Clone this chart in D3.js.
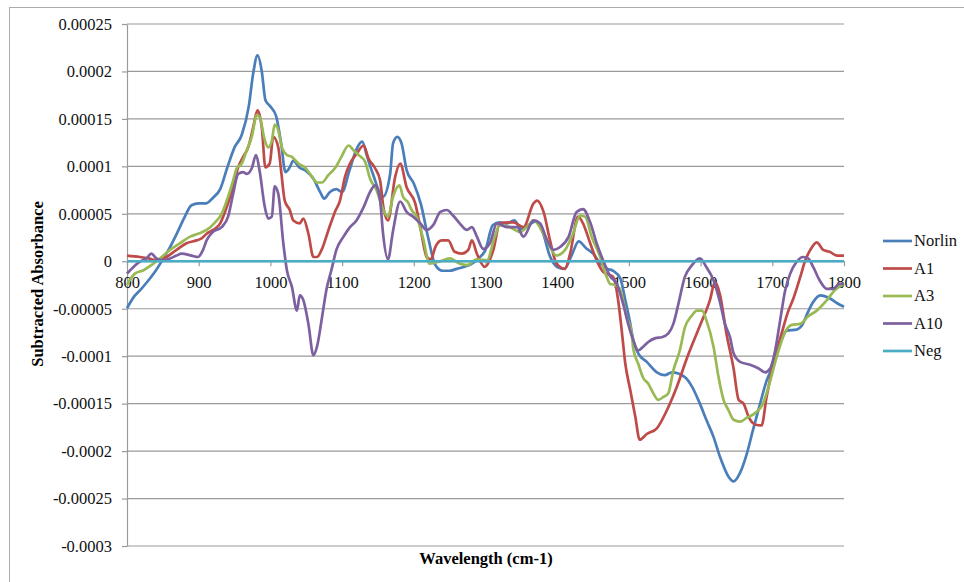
<!DOCTYPE html>
<html>
<head>
<meta charset="utf-8">
<script src="https://cdn.jsdelivr.net/npm/d3@7"></script>
<style>
body { margin: 0; background: #fff; }
text { font-family: "Liberation Serif", "Times New Roman", serif; }
</style>
</head>
<body>
<svg id="chart" width="964" height="582"></svg>
<script>
const UNIT = 1e-5;

const norlin = [[800,-4.95],[810,-3.7],[820,-2.9],[830,-2.0],[840,-1.0],[850,0.2],[860,1.5],[870,3.0],[880,4.6],[890,5.9],[900,6.1],[910,6.1],[920,6.7],[930,7.6],[940,9.9],[950,12.0],[960,13.3],[970,16.4],[976,19.8],[982,21.7],[988,20.0],[993,17.0],[1000,16.3],[1008,15.3],[1015,12.4],[1021,9.4],[1027,9.9],[1032,10.6],[1040,9.9],[1050,9.5],[1060,8.7],[1070,7.2],[1075,6.6],[1083,7.3],[1092,7.6],[1100,7.3],[1110,9.5],[1120,11.8],[1128,12.6],[1135,11.0],[1143,9.2],[1157,6.8],[1167,9.2],[1171,12.4],[1177,13.1],[1183,12.4],[1190,9.6],[1200,8.2],[1210,6.0],[1220,2.5],[1230,-0.4],[1240,-1.0],[1250,-1.0],[1260,-0.8],[1270,-0.6],[1280,-0.3],[1290,0.3],[1300,1.2],[1310,3.8],[1320,4.1],[1330,4.0],[1340,4.3],[1350,3.4],[1360,3.8],[1370,4.2],[1380,3.0],[1390,0.5],[1400,-0.6],[1410,-0.8],[1420,0.6],[1430,2.1],[1440,1.4],[1450,0.8],[1460,-0.2],[1470,-0.8],[1478,-1.0],[1488,-1.8],[1495,-4.1],[1502,-6.6],[1506,-8.3],[1513,-9.7],[1525,-10.6],[1539,-11.7],[1550,-12.0],[1560,-11.7],[1578,-12.2],[1588,-13.2],[1599,-15.0],[1608,-16.7],[1618,-18.5],[1627,-20.6],[1639,-22.7],[1646,-23.2],[1655,-22.3],[1664,-20.4],[1673,-17.8],[1683,-15.0],[1692,-12.6],[1701,-11.0],[1710,-8.9],[1720,-7.3],[1734,-7.2],[1741,-6.8],[1750,-5.3],[1757,-4.3],[1767,-3.6],[1780,-3.9],[1790,-4.4],[1800,-4.8]];

const a1 = [[800,0.6],[818,0.45],[830,0.3],[841,0.1],[855,0.45],[869,1.2],[883,1.9],[897,2.2],[904,2.4],[911,2.9],[920,3.3],[930,4.0],[939,5.7],[948,7.8],[955,9.9],[962,11.0],[969,12.0],[976,14.1],[982,15.9],[988,14.1],[993,9.9],[999,10.3],[1004,13.1],[1011,12.0],[1015,9.5],[1020,6.4],[1027,5.4],[1032,4.3],[1041,4.0],[1046,4.5],[1053,2.9],[1060,0.45],[1065,0.45],[1072,1.3],[1081,3.3],[1090,5.2],[1097,6.4],[1104,8.9],[1111,10.3],[1120,11.3],[1130,12.2],[1137,10.8],[1146,9.8],[1153,8.5],[1158,5.5],[1164,4.3],[1174,8.9],[1181,10.3],[1190,7.8],[1202,6.1],[1209,3.6],[1218,0.45],[1224,0.2],[1230,1.5],[1239,2.2],[1248,2.2],[1257,1.0],[1267,0.8],[1276,1.2],[1281,2.2],[1288,0.8],[1299,-0.6],[1311,1.2],[1320,4.0],[1339,4.1],[1353,3.6],[1367,6.1],[1372,6.4],[1381,5.2],[1390,2.2],[1399,-0.25],[1411,-0.8],[1418,0.8],[1429,4.7],[1436,4.0],[1446,1.9],[1455,0.1],[1464,-1.1],[1478,-1.65],[1485,-4.1],[1490,-7.3],[1495,-10.8],[1502,-13.6],[1509,-16.4],[1515,-18.8],[1525,-18.2],[1539,-17.6],[1553,-15.7],[1567,-13.2],[1581,-10.2],[1599,-6.8],[1613,-4.1],[1620,-2.2],[1627,-3.5],[1636,-7.6],[1646,-11.3],[1653,-14.6],[1660,-15.0],[1667,-16.4],[1676,-17.2],[1685,-17.3],[1692,-14.3],[1701,-11.0],[1713,-7.6],[1722,-5.3],[1729,-4.0],[1739,-1.65],[1746,0.1],[1753,1.2],[1762,2.0],[1771,1.2],[1780,1.0],[1790,0.6],[1800,0.6]];

const a3 = [[800,-2.5],[811,-1.3],[823,-0.95],[834,-0.4],[846,0.3],[860,1.2],[874,1.9],[888,2.6],[899,2.9],[911,3.3],[923,4.1],[932,5.0],[941,6.8],[948,8.5],[953,9.8],[960,10.3],[967,11.7],[974,13.1],[981,15.4],[985,15.2],[992,12.8],[997,12.0],[1002,12.7],[1006,14.4],[1011,13.8],[1016,12.0],[1023,11.2],[1030,11.0],[1039,10.3],[1048,9.9],[1058,8.9],[1065,8.3],[1072,8.3],[1081,9.1],[1090,9.8],[1099,11.0],[1109,12.2],[1116,11.7],[1123,11.2],[1132,10.5],[1139,8.7],[1148,7.5],[1157,5.5],[1164,4.7],[1171,6.8],[1180,8.0],[1185,6.8],[1192,6.2],[1197,5.4],[1204,4.7],[1213,2.4],[1222,-0.25],[1237,0.0],[1250,0.3],[1264,-0.25],[1274,-0.4],[1288,0.2],[1302,0.1],[1313,2.6],[1320,3.8],[1334,3.6],[1348,3.1],[1360,3.8],[1367,4.3],[1381,2.9],[1390,1.5],[1399,0.6],[1411,1.2],[1422,2.9],[1432,4.8],[1439,4.7],[1448,2.6],[1460,0.45],[1469,-1.65],[1474,-2.4],[1481,-2.5],[1488,-3.05],[1497,-5.9],[1504,-7.6],[1506,-9.2],[1513,-10.8],[1520,-12.3],[1527,-12.9],[1534,-13.9],[1541,-14.6],[1548,-14.3],[1555,-13.9],[1562,-11.5],[1571,-9.4],[1578,-7.0],[1588,-5.7],[1595,-5.2],[1602,-5.2],[1608,-6.2],[1618,-9.0],[1625,-12.2],[1632,-14.6],[1639,-15.7],[1646,-16.7],[1655,-16.9],[1664,-16.5],[1676,-16.0],[1687,-15.0],[1696,-12.9],[1706,-10.1],[1717,-7.6],[1727,-6.7],[1739,-6.6],[1750,-5.8],[1762,-5.2],[1776,-4.1],[1787,-3.05],[1800,-2.4]];

const a10 = [[800,-1.3],[809,-0.6],[818,-0.05],[827,0.3],[834,0.8],[841,0.3],[851,0.1],[860,0.3],[869,0.6],[876,0.8],[890,0.6],[899,0.45],[906,1.2],[911,2.2],[920,3.1],[932,3.6],[941,4.7],[948,7.1],[955,9.2],[962,9.4],[967,9.2],[974,9.8],[980,11.2],[985,9.5],[992,5.8],[997,4.5],[1002,4.7],[1006,7.9],[1011,7.1],[1018,1.9],[1023,-0.95],[1030,-2.7],[1037,-5.2],[1041,-3.6],[1046,-4.1],[1053,-6.6],[1060,-9.9],[1065,-9.0],[1072,-5.9],[1078,-3.05],[1085,-0.95],[1092,1.2],[1102,2.6],[1111,3.6],[1120,4.3],[1130,5.7],[1139,7.3],[1146,8.0],[1153,6.4],[1157,3.0],[1164,0.2],[1171,3.2],[1181,6.3],[1190,5.2],[1199,4.7],[1209,4.0],[1218,3.3],[1227,3.8],[1237,5.2],[1246,5.4],[1255,4.8],[1264,4.0],[1274,3.3],[1281,3.6],[1288,2.6],[1297,1.3],[1306,1.9],[1316,4.0],[1330,3.6],[1344,3.6],[1353,2.6],[1367,4.3],[1376,4.0],[1386,2.2],[1395,1.2],[1404,1.5],[1416,2.6],[1427,5.2],[1436,5.5],[1446,4.1],[1455,1.9],[1464,0.1],[1474,-1.6],[1483,-2.35],[1492,-4.5],[1499,-6.6],[1506,-8.3],[1513,-9.4],[1520,-9.0],[1527,-8.5],[1537,-8.1],[1546,-8.0],[1555,-7.6],[1562,-6.6],[1569,-4.5],[1578,-1.65],[1588,-0.4],[1599,0.3],[1608,-0.6],[1618,-2.0],[1627,-4.3],[1634,-6.6],[1641,-8.0],[1646,-9.7],[1655,-10.6],[1669,-10.9],[1681,-11.3],[1690,-11.7],[1697,-11.3],[1704,-9.4],[1711,-6.2],[1718,-3.05],[1725,-1.3],[1734,-0.05],[1743,0.45],[1750,0.3],[1757,-0.6],[1766,-2.0],[1776,-2.9],[1785,-2.9],[1794,-2.35],[1800,-2.4]];

const neg = [[800,0],[1800,0]];

const SERIES = [norlin, a1, a3, a10, neg];
const SERIES_NAMES = ["Norlin", "A1", "A3", "A10", "Neg"];
const SERIES_COLORS = ["#4a7ebb", "#be4b48", "#98b954", "#7d60a0", "#4bacc6"];

const X_TICKS = [800, 900, 1000, 1100, 1200, 1300, 1400, 1500, 1600, 1700, 1800];
const Y_TICKS = [0.00025, 0.0002, 0.00015, 0.0001, 0.00005, 0, -0.00005, -0.0001, -0.00015, -0.0002, -0.00025, -0.0003];

let svg = d3.select("#chart");

// SCALES
let x = d3.scaleLinear().domain([800, 1800]).range([127, 844]);
let y = d3.scaleLinear().domain([-0.0003, 0.00025]).range([546, 24]);

// outer frame
svg.append("rect")
.attr("x", 9.5).attr("y", 7.5)
.attr("width", 990).attr("height", 600)
.attr("fill", "none")
.attr("stroke", "#ababab");

// gridlines
svg.append("g")
.selectAll("line")
.data(Y_TICKS)
.enter()
.append("line")
.attr("x1", x(800)).attr("x2", x(1800))
.attr("y1", d=>y(d)).attr("y2", d=>y(d))
.attr("stroke", "#9a9a9a")
.attr("stroke-width", 1.2);

// y axis
let yAxis = svg.append("g")
.attr("transform", `translate(${x(800)},0)`)
.call(d3.axisLeft(y).tickValues(Y_TICKS).tickSize(5).tickSizeOuter(0).tickPadding(10).tickFormat(d=>String(d)));

// x axis sits on zero
let xAxis = svg.append("g")
.attr("transform", `translate(0,${y(0)})`)
.call(d3.axisBottom(x).tickValues(X_TICKS).tickSize(5).tickSizeOuter(0).tickPadding(10).tickFormat(d3.format("d")));

[yAxis, xAxis].forEach(a=>{
	a.selectAll("path, line").attr("stroke", "#9a9a9a").attr("stroke-width", 1.2);
	a.selectAll("text")
	.style("font-family", '"Liberation Serif", serif')
	.style("font-size", "16.5px")
	.attr("fill", "#111");
});

// series
let line = d3.line()
.x(d=>x(d[0]))
.y(d=>y(d[1] * UNIT))
.curve(d3.curveMonotoneX);

svg.append("g")
.selectAll("path")
.data(SERIES)
.enter()
.append("path")
.attr("d", line)
.attr("fill", "none")
.attr("stroke", (d,i)=>SERIES_COLORS[i])
.attr("stroke-width", 2.7)
.attr("stroke-linejoin", "round");

// legend
let legend = svg.append("g")
.selectAll("g")
.data(SERIES_NAMES)
.enter()
.append("g")
.attr("transform", (d,i)=>`translate(883,${241 + i * 27.5})`);

legend.append("line")
.attr("x1", 0).attr("x2", 29)
.attr("stroke", (d,i)=>SERIES_COLORS[i])
.attr("stroke-width", 2.7);

legend.append("text")
.attr("x", 31)
.attr("dy", "0.33em")
.style("font-size", "16.5px")
.attr("fill", "#111")
.text(d=>d);

// axis titles
svg.append("text")
.attr("x", 486).attr("y", 559)
.attr("dy", "0.33em")
.attr("text-anchor", "middle")
.style("font-size", "16.5px")
.style("font-weight", "bold")
.text("Wavelength (cm-1)");

svg.append("text")
.attr("transform", "translate(38,284) rotate(-90)")
.attr("dy", "0.33em")
.attr("text-anchor", "middle")
.style("font-size", "16.5px")
.style("font-weight", "bold")
.text("Subtracted Absorbance");
</script>
</body>
</html>
